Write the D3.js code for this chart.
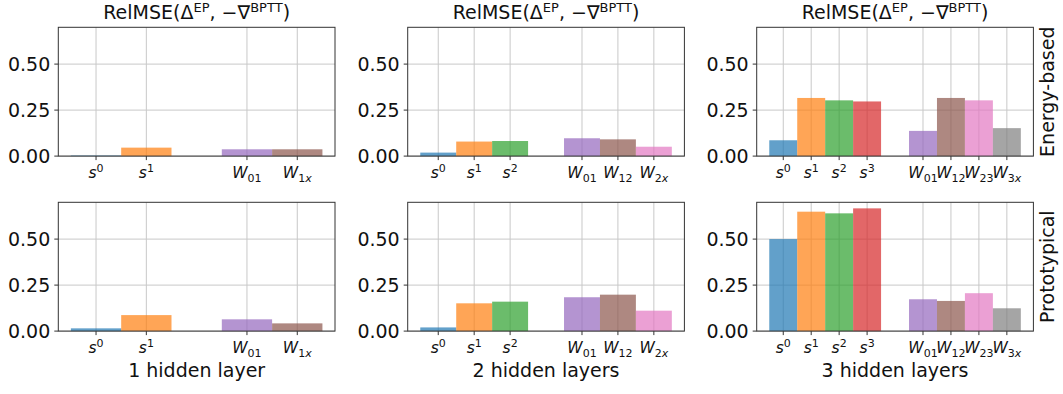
<!DOCTYPE html>
<html>
<head>
<meta charset="utf-8">
<script src="https://cdn.jsdelivr.net/npm/d3@7"></script>
<style>
  body { margin: 0; background: #fff; }
  svg { display: block; font-family: "DejaVu Sans", sans-serif; }
</style>
</head>
<body>
<script>
// chart data
const columnTitles = ['1 hidden layer', '2 hidden layers', '3 hidden layers']
const rowNames = ['Energy-based', 'Prototypical']
const stateIdx = [['0', '1'], ['0', '1', '2'], ['0', '1', '2', '3']]
const weightIdx = [['01', '1x'], ['01', '12', '2x'], ['01', '12', '23', '3x']]
const energyStates = [[0.003, 0.046], [0.019, 0.079, 0.082], [0.086, 0.316, 0.303, 0.297]]
const energyWeights = [[0.037, 0.037], [0.097, 0.091, 0.051], [0.137, 0.316, 0.303, 0.152]]
const protoStates = [[0.015, 0.087], [0.020, 0.151, 0.160], [0.500, 0.649, 0.640, 0.667]]
const protoWeights = [[0.064, 0.042], [0.184, 0.198, 0.111], [0.173, 0.164, 0.206, 0.124]]
const yTicks = [0, 0.25, 0.5]
const yMax = 0.7

const tab10 = ['#1f77b4', '#ff7f0e', '#2ca02c', '#d62728', '#9467bd', '#8c564b', '#e377c2', '#7f7f7f', '#bcbd22', '#17becf']

const width = 1063
const height = 394
const colLeft = [58.3, 407.7, 756.7]
const rowTop = [27.3, 202.3]
const axW = 276.7
const axH = 128.8

const svg = d3.select('body').append('svg').attr('width', width).attr('height', height)

const rows = [
    {states: energyStates, weights: energyWeights},
    {states: protoStates, weights: protoWeights}
]

rows.forEach((row, r) => {
    columnTitles.forEach((colTitle, c) => {
        const nS = stateIdx[c].length
        const bars = []
        stateIdx[c].forEach((idx, i) => {
            bars.push({pos: i, value: row.states[c][i], color: tab10[i], kind: 's', idx: idx})
        })
        weightIdx[c].forEach((idx, i) => {
            bars.push({pos: nS + 1 + i, value: row.weights[c][i], color: tab10[4 + i], kind: 'W', idx: idx})
        })
        const lastPos = bars[bars.length - 1].pos
        const span = lastPos + 1
        const x = d3.scaleLinear()
            .domain([-0.5 - 0.05 * span, lastPos + 0.5 + 0.05 * span])
            .range([0, axW])
        const y = d3.scaleLinear().domain([0, yMax]).range([axH, 0])

        const g = svg.append('g').attr('transform', `translate(${colLeft[c]},${rowTop[r]})`)

        // grid
        g.selectAll('.hgrid').data(yTicks).enter().append('line')
            .attr('x1', 0).attr('x2', axW)
            .attr('y1', d => y(d)).attr('y2', d => y(d))
            .attr('stroke', '#c8c8c8').attr('stroke-width', 1)
        g.selectAll('.vgrid').data(bars).enter().append('line')
            .attr('x1', d => x(d.pos)).attr('x2', d => x(d.pos))
            .attr('y1', 0).attr('y2', axH)
            .attr('stroke', '#c8c8c8').attr('stroke-width', 1)

        // bars
        g.selectAll('.bar').data(bars).enter().append('rect')
            .attr('x', d => x(d.pos - 0.5))
            .attr('width', d => x(d.pos + 0.5) - x(d.pos - 0.5))
            .attr('y', d => y(d.value))
            .attr('height', d => axH - y(d.value))
            .attr('fill', d => d.color)
            .attr('fill-opacity', 0.7)

        // frame
        g.append('rect').attr('x', 0).attr('y', 0).attr('width', axW).attr('height', axH)
            .attr('fill', 'none').attr('stroke', '#333').attr('stroke-width', 1)

        // y ticks
        const yAxis = g.append('g')
        yAxis.selectAll('line').data(yTicks).enter().append('line')
            .attr('x1', -4).attr('x2', 0)
            .attr('y1', d => y(d)).attr('y2', d => y(d))
            .attr('stroke', '#333')
        yAxis.selectAll('text').data(yTicks).enter().append('text')
            .attr('x', -8).attr('y', d => y(d) + 7)
            .attr('text-anchor', 'end')
            .attr('font-size', 19)
            .attr('fill', '#111')
            .text(d => d3.format('.2f')(d))

        // x ticks
        g.selectAll('.xt').data(bars).enter().append('line')
            .attr('x1', d => x(d.pos)).attr('x2', d => x(d.pos))
            .attr('y1', axH).attr('y2', axH + 4)
            .attr('stroke', '#333')
        const labels = g.selectAll('.xl').data(bars).enter().append('text')
            .attr('x', d => x(d.pos))
            .attr('y', axH + 22)
            .attr('text-anchor', 'middle')
            .attr('font-size', 15.5)
            .attr('fill', '#111')
        labels.append('tspan').attr('font-style', 'italic').text(d => d.kind)
        labels.each(function (d) {
            const t = d3.select(this)
            if (d.kind === 's') {
                t.append('tspan').attr('font-size', 11).attr('dy', -6).text(d.idx)
            } else {
                const digits = d.idx.replace('x', '')
                t.append('tspan').attr('font-size', 11).attr('dy', 4).text(digits)
                if (d.idx.includes('x')) {
                    t.append('tspan').attr('font-size', 11).attr('font-style', 'italic').text('x')
                }
            }
        })

        // title on top row
        if (r === 0) {
            const tt = svg.append('text')
                .attr('x', colLeft[c] + axW / 2).attr('y', 19)
                .attr('text-anchor', 'middle')
                .attr('font-size', 19)
                .attr('fill', '#111')
            tt.append('tspan').text('RelMSE(\u0394')
            tt.append('tspan').attr('font-size', 13).attr('dy', -7).text('EP')
            tt.append('tspan').attr('dy', 7).text(', \u2212\u2207')
            tt.append('tspan').attr('font-size', 13).attr('dy', -7).text('BPTT')
            tt.append('tspan').attr('dy', 7).text(')')
        }

        // column label on bottom row
        if (r === 1) {
            svg.append('text')
                .attr('x', colLeft[c] + axW / 2).attr('y', rowTop[r] + axH + 46)
                .attr('text-anchor', 'middle')
                .attr('font-size', 19)
                .attr('fill', '#111')
                .text(colTitle)
        }

        // row label at right
        if (c === 2) {
            svg.append('text')
                .attr('transform', `translate(${colLeft[c] + axW + 21},${rowTop[r] + axH / 2}) rotate(-90)`)
                .attr('text-anchor', 'middle')
                .attr('font-size', 19)
                .attr('fill', '#111')
                .text(rowNames[r])
        }
    })
})
</script>
</body>
</html>
